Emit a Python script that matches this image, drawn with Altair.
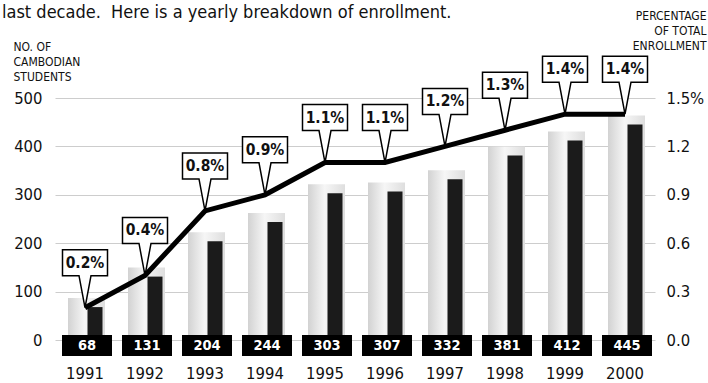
import altair as alt
import pandas as pd

years = ["1991", "1992", "1993", "1994", "1995", "1996", "1997", "1998", "1999", "2000"]
students = [68, 131, 204, 244, 303, 307, 332, 381, 412, 445]
pct = [0.2, 0.4, 0.8, 0.9, 1.1, 1.1, 1.2, 1.3, 1.4, 1.4]
pct_labels = ["0.2%", "0.4%", "0.8%", "0.9%", "1.1%", "1.1%", "1.2%", "1.3%", "1.4%", "1.4%"]
count_ticks = [0, 100, 200, 300, 400, 500]
pct_ticks = [0.0, 0.3, 0.6, 0.9, 1.2, 1.5]

df = pd.DataFrame({"year": years, "students": students, "pct": pct, "pct_label": pct_labels})

NARROW = "DejaVu Sans Condensed, Liberation Sans Narrow, Arial Narrow, sans-serif"

x_enc = alt.X(
    "year:O",
    scale=alt.Scale(paddingInner=0, paddingOuter=0),
    axis=alt.Axis(title=None, labelAngle=0, domain=False, ticks=False, labelPadding=25,
                  labelFont=NARROW, labelFontSize=16.5, labelColor="#111"),
)

left_axis = alt.Axis(
    values=count_ticks, domain=False, ticks=False, grid=True, gridColor="#cdcdcd", gridWidth=1,
    labelFont=NARROW, labelFontSize=16.5, labelColor="#111", labelPadding=13,
    title=["NO. OF", "CAMBODIAN", "STUDENTS"], titleAngle=0, titleAlign="left",
    titleBaseline="alphabetic", titleX=-42, titleY=-48, titleFont=NARROW, titleFontSize=12,
    titleFontWeight="normal", titleColor="#111", titleLineHeight=15,
)
left_scale = alt.Scale(domain=[0, 500], nice=False)

right_axis = alt.Axis(
    orient="right", values=pct_ticks, domain=False, ticks=False, grid=False,
    labelExpr="datum.value == 1.5 ? '1.5%' : format(datum.value, '.1f')",
    labelFont=NARROW, labelFontSize=16.5, labelColor="#111", labelPadding=11,
    title=["PERCENTAGE", "OF TOTAL", "ENROLLMENT"], titleAngle=0, titleAlign="right",
    titleBaseline="alphabetic", titleX=51, titleY=-79, titleFont=NARROW, titleFontSize=12,
    titleFontWeight="normal", titleColor="#111", titleLineHeight=15,
)
right_scale = alt.Scale(domain=[0, 1.5], nice=False)

base = alt.Chart(df)

glow = alt.Gradient(
    gradient="linear",
    stops=[alt.GradientStop(color="#d2d2d2", offset=0),
           alt.GradientStop(color="#f6f6f6", offset=0.45),
           alt.GradientStop(color="#dedede", offset=1)],
    x1=0, x2=1, y1=0, y2=0,
)

light_bars = base.mark_bar(width=37, xOffset=1.5, yOffset=-9, y2Offset=0, fill=glow).encode(
    x=x_enc, y=alt.Y("students:Q", scale=left_scale, axis=left_axis), y2=alt.datum(0)
)
dark_bars = base.mark_bar(width=15, xOffset=10, color="#1b1b1b").encode(
    x=x_enc, y=alt.Y("students:Q", scale=left_scale, axis=left_axis)
)
value_boxes = base.mark_bar(width=50, xOffset=2, color="#000", yOffset=-5, y2Offset=16).encode(
    x=x_enc, y=alt.Y(datum=0, scale=left_scale, axis=left_axis), y2=alt.datum(0)
)
value_text = base.mark_text(color="white", font=NARROW, fontSize=14.5, fontWeight="bold",
                            dx=2, dy=6, baseline="middle").encode(
    x=x_enc, y=alt.Y(datum=0, scale=left_scale, axis=left_axis), text="students:Q"
)
left = alt.layer(light_bars, dark_bars, value_boxes, value_text)

CALLOUT = "M -0.45 -1.16 H 0.45 V -0.64 H 0.12 L 0 0 L -0.12 -0.64 H -0.45 Z"
callouts = base.mark_point(shape=CALLOUT, size=10000, filled=True, color="white",
                           stroke="black", strokeWidth=1.5, opacity=1).encode(
    x=x_enc, y=alt.Y("pct:Q", scale=right_scale, axis=right_axis)
)
line = base.mark_line(color="black", strokeWidth=5).encode(
    x=x_enc, y=alt.Y("pct:Q", scale=right_scale, axis=right_axis)
)
callout_text = base.mark_text(font=NARROW, fontSize=15.5, fontWeight="bold", color="#111",
                              dy=-45, baseline="middle").encode(
    x=x_enc, y=alt.Y("pct:Q", scale=right_scale, axis=right_axis), text="pct_label:N"
)
right = alt.layer(callouts, line, callout_text)

chart = alt.layer(left, right).resolve_scale(y="independent").properties(
    width=600, height=242,
    title=alt.TitleParams(
        text="last decade.\u00a0 Here is a yearly breakdown of enrollment.",
        anchor="start", orient="top", frame="group", offset=0, dx=-53, dy=27,
        baseline="alphabetic", font=NARROW, fontSize=18, fontWeight="normal", color="#111",
    ),
    autosize=alt.AutoSizeParams(type="none"),
    padding={"left": 55, "top": 98, "right": 53, "bottom": 43},
    background="white",
).configure_view(stroke=None)

chart.save("out.html", embed_options={"renderer": "svg", "actions": False})
